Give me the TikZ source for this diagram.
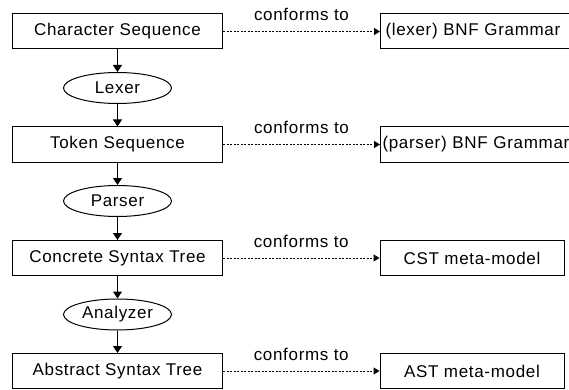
\documentclass[tikz,border=0pt]{standalone}
\usepackage{fontspec}
\setmainfont{Liberation Sans}[LetterSpace=4]
\usetikzlibrary{shapes.geometric}
\usetikzlibrary{positioning}
\usetikzlibrary{arrows.meta}

\begin{document}
\begin{tikzpicture} [
  x=1pt, y=-1pt,
  every node/.style={font=\fontsize{17}{20}\selectfont, line width=1pt},
  stage/.style={draw, rectangle, minimum width=210pt, minimum height=35pt, inner sep=0},
  tool/.style={draw, ellipse, minimum width=108pt, minimum height=31pt, inner sep=0},
  spec/.style={draw, rectangle, minimum width=184pt, minimum height=35pt, inner sep=0},
  grammar/.style={draw, rectangle, anchor=west, minimum height=35pt, inner ysep=0, text width=260pt, align=left},
  flow/.style={-{Triangle[length=7pt,width=9pt]}, line width=1pt},
  conform/.style={dash pattern=on 2pt off 1.5pt, -{Triangle[length=6pt,width=7pt]}, line width=1pt}
  ]
  \useasboundingbox (0,0) rectangle (569,390);
  \clip (0,0) rectangle (569,390);

  % pipeline
  \node (n0) [stage] at (117.5,31.5) {Character Sequence};
  \node (n1) [tool] at (117.5,88) {Lexer};
  \node (n2) [stage] at (117.5,144.5) {Token Sequence};
  \node (n3) [tool] at (117.5,201) {Parser};
  \node (n4) [stage] at (117.5,258) {Concrete Syntax Tree};
  \node (n5) [tool] at (117.5,314.5) {Analyzer};
  \node (n6) [stage] at (117.5,371) {Abstract Syntax Tree};

  % specifications
  \node (m0) [grammar, inner xsep=5pt] at (380,31.5) {(lexer) BNF Grammar};
  \node (m1) [grammar, inner xsep=2pt] at (380,144.5) {(parser) BNF Grammar};
  \node (m2) [spec] at (472,258) {CST meta-model};
  \node (m3) [spec] at (472,371) {AST meta-model};

  \draw [flow] (n0) -- (n1);
  \draw [flow] (n1) -- (n2);
  \draw [flow] (n2) -- (n3);
  \draw [flow] (n3) -- (n4);
  \draw [flow] (n4) -- (n5);
  \draw [flow] (n5) -- (n6);

  \draw [conform] (n0) -- node (c0) [above=7pt] {conforms to} (m0);
  \draw [conform] (n2) -- node (c1) [above=7pt] {conforms to} (m1);
  \draw [conform] (n4) -- node (c2) [above=7pt] {conforms to} (m2);
  \draw [conform] (n6) -- node (c3) [above=7pt] {conforms to} (m3);
\end{tikzpicture}
\end{document}
